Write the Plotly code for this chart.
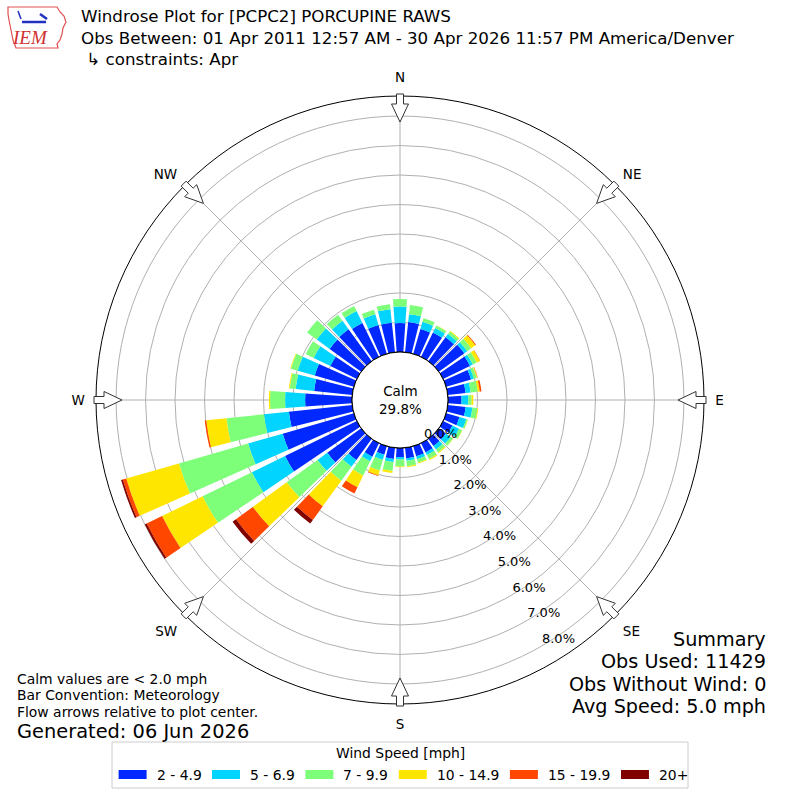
import math
import plotly.graph_objects as go

# wind direction bins (degrees, meteorological) and speed classes
directions = list(range(0, 360, 10))
speed_bins = ["2 - 4.9", "5 - 6.9", "7 - 9.9", "10 - 14.9", "15 - 19.9", "20+"]
bin_colors = ["#0028ff", "#00d4ff", "#7dff7a", "#ffe600", "#ff4700", "#800000"]

# percent of observations, one list per speed class (36 directions each)
pct_2_5 = [0.98, 1.03, 0.88, 0.92, 1.00, 1.07, 1.01, 0.88, 0.61, 0.46, 0.61, 0.47,
           0.35, 0.30, 0.30, 0.35, 0.36, 0.36, 0.31, 0.38, 0.30, 0.51, 0.89, 1.42,
           2.71, 2.51, 2.16, 1.59, 1.30, 1.38, 1.00, 1.32, 1.34, 1.28, 1.02, 1.01]
pct_5_7 = [0.56, 0.27, 0.25, 0.17, 0.14, 0.12, 0.11, 0.10, 0.17, 0.23, 0.23, 0.24,
           0.25, 0.20, 0.15, 0.10, 0.10, 0.08, 0.08, 0.11, 0.18, 0.17, 0.28, 0.41,
           1.25, 1.22, 0.85, 0.68, 0.63, 0.60, 0.63, 0.54, 0.35, 0.45, 0.38, 0.46]
pct_7_10 = [0.26, 0.31, 0.13, 0.09, 0.10, 0.17, 0.15, 0.10, 0.24, 0.11, 0.17, 0.05,
            0.12, 0.10, 0.12, 0.15, 0.12, 0.19, 0.24, 0.30, 0.38, 0.54, 0.59, 1.29,
            1.86, 2.44, 1.28, 0.51, 0.20, 0.24, 0.30, 0.41, 0.26, 0.19, 0.16, 0.17]
pct_10_15 = [0.00, 0.00, 0.00, 0.01, 0.03, 0.17, 0.12, 0.03, 0.07, 0.06, 0.03, 0.01,
             0.01, 0.01, 0.03, 0.04, 0.03, 0.03, 0.02, 0.07, 0.17, 0.44, 1.07, 1.42,
             1.53, 1.86, 0.69, 0.04, 0.03, 0.02, 0.00, 0.00, 0.00, 0.00, 0.00, 0.00]
pct_15_20 = [0.00, 0.00, 0.00, 0.00, 0.00, 0.03, 0.01, 0.01, 0.06, 0.00, 0.00, 0.00,
             0.00, 0.00, 0.00, 0.00, 0.00, 0.00, 0.00, 0.00, 0.02, 0.24, 0.57, 0.71,
             0.58, 0.12, 0.05, 0.00, 0.00, 0.00, 0.00, 0.00, 0.00, 0.00, 0.00, 0.00]
pct_20_up = [0.00, 0.00, 0.00, 0.00, 0.00, 0.00, 0.00, 0.00, 0.00, 0.00, 0.00, 0.00,
             0.00, 0.00, 0.00, 0.00, 0.00, 0.00, 0.00, 0.00, 0.00, 0.00, 0.15, 0.14,
             0.07, 0.06, 0.00, 0.00, 0.00, 0.00, 0.00, 0.00, 0.00, 0.00, 0.00, 0.00]
bin_values = [pct_2_5, pct_5_7, pct_7_10, pct_10_15, pct_15_20, pct_20_up]

radial_ticks = [0, 1, 2, 3, 4, 5, 6, 7, 8]
compass_angles = [0, 45, 90, 135, 180, 225, 270, 315]
compass_labels = ["N", "NE", "E", "SE", "S", "SW", "W", "NW"]
calm_pct = 29.8

title_lines = [
    "Windrose Plot for [PCPC2] PORCUPINE RAWS",
    "Obs Between: 01 Apr 2011 12:57 AM - 30 Apr 2026 11:57 PM America/Denver",
    " \u21b3 constraints: Apr",
]
notes = ["Calm values are < 2.0 mph", "Bar Convention: Meteorology",
         "Flow arrows relative to plot center."]
generated = "Generated: 06 Jun 2026"
summary = ["Summary", "Obs Used: 11429", "Obs Without Wind: 0", "Avg Speed: 5.0 mph"]

W = H = 800
CX, CY, R = 400, 400, 304
RMAX = 8.68
FONT = "DejaVu Sans"


def px(x):
    return x / W


def py(y):
    return 1 - y / H


fig = go.Figure()

for name, color, vals in zip(speed_bins, bin_colors, bin_values):
    fig.add_trace(go.Barpolar(
        r=vals, theta=directions, width=8, name=name,
        marker=dict(color=color, line=dict(width=0)),
    ))

# calm circle outline
fig.add_trace(go.Scatterpolar(
    r=[0] * 181, theta=list(range(0, 362, 2)), mode="lines",
    line=dict(color="black", width=1), hoverinfo="skip",
))

# radial labels along the 150 degree line
fig.add_trace(go.Scatterpolar(
    r=radial_ticks, theta=[150] * len(radial_ticks), mode="text",
    text=[f"{v:.1f}%" for v in radial_ticks], textposition="top right",
    textfont=dict(family=FONT, size=13, color="black"), cliponaxis=False,
    hoverinfo="skip",
))

shapes = []
# flow arrows on the outer ring
for b in compass_angles:
    rad = math.radians(b)
    ox, oy = math.sin(rad), -math.cos(rad)
    qx, qy = math.cos(rad), math.sin(rad)
    pts = [(306, 3.5), (296, 3.5), (296, 8.5), (278, 0), (296, -8.5), (296, -3.5), (306, -3.5)]
    coords = []
    for r, w in pts:
        x = CX + r * ox + w * qx
        y = CY + r * oy + w * qy
        coords.append(f"{px(x):.5f},{py(y):.5f}")
    shapes.append(dict(type="path", xref="paper", yref="paper",
                       path="M" + " L".join(coords) + " Z",
                       fillcolor="white", line=dict(color="#333333", width=1)))

# rough IEM logo
iowa = [(8, 7), (57, 7), (60, 12), (64, 16), (66, 22), (63, 28), (62, 34), (60, 40),
        (57, 44), (58, 48), (16, 48), (13, 40), (11, 30), (9, 20), (8, 14)]
shapes.append(dict(type="path", xref="paper", yref="paper",
                   path="M" + " L".join(f"{px(x):.5f},{py(y):.5f}" for x, y in iowa) + " Z",
                   line=dict(color="#e05050", width=1.2)))
shapes.append(dict(type="line", xref="paper", yref="paper", x0=px(22), y0=py(22),
                   x1=px(46), y1=py(22), line=dict(color="#2030c0", width=2.5)))
shapes.append(dict(type="line", xref="paper", yref="paper", x0=px(40), y0=py(14),
                   x1=px(47), y1=py(19), line=dict(color="#2030c0", width=2.5)))
shapes.append(dict(type="line", xref="paper", yref="paper", x0=px(18), y0=py(11),
                   x1=px(21), y1=py(19), line=dict(color="#2030c0", width=1.5)))

annotations = []
annotations.append(dict(x=px(30), y=py(38), xref="paper", yref="paper", text="<i>IEM</i>",
                        showarrow=False, xanchor="center", yanchor="middle",
                        font=dict(family="Liberation Serif", size=19, color="#d03030")))

annotations.append(dict(x=px(80), y=py(38), xref="paper", yref="paper",
                        text="<br>".join(title_lines), align="left", borderpad=0,
                        showarrow=False, xanchor="left", yanchor="middle",
                        font=dict(family=FONT, size=16.7, color="black")))

annotations.append(dict(x=0.5, y=0.5, xref="paper", yref="paper",
                        text=f"Calm<br>{calm_pct:.1f}%", showarrow=False,
                        xanchor="center", yanchor="middle",
                        font=dict(family=FONT, size=13.5, color="black")))

for i, line in enumerate(notes):
    annotations.append(dict(x=px(16), y=py(678.5 + 16.5 * i), xref="paper", yref="paper",
                            text=line, showarrow=False, xanchor="left", yanchor="middle",
                            borderpad=0, font=dict(family=FONT, size=13.9, color="black")))
annotations.append(dict(x=px(16), y=py(731.5), xref="paper", yref="paper", text=generated,
                        showarrow=False, xanchor="left", yanchor="middle", borderpad=0,
                        font=dict(family=FONT, size=19.4, color="black")))

for i, line in enumerate(summary):
    annotations.append(dict(x=px(767), y=py(639.5 + 22.3 * i), xref="paper", yref="paper",
                            text=line, showarrow=False, xanchor="right", yanchor="middle",
                            borderpad=0, font=dict(family=FONT, size=19.2, color="black")))

# legend box built by hand
LEG_FS = 13.9
shapes.append(dict(type="rect", xref="paper", yref="paper", x0=px(112), x1=px(688),
                   y0=py(788), y1=py(742), fillcolor="white",
                   line=dict(color="#cccccc", width=1)))
annotations.append(dict(x=0.5, y=py(753), xref="paper", yref="paper", text="Wind Speed [mph]",
                        showarrow=False, xanchor="center", yanchor="middle",
                        font=dict(family=FONT, size=LEG_FS, color="black")))

char_em = {" ": 0.318, "-": 0.361, ".": 0.318, "+": 0.838}


def text_w(s):
    return sum(char_em.get(ch, 0.636) * LEG_FS for ch in s)


lx = 118.6
for name, color in zip(speed_bins, bin_colors):
    shapes.append(dict(type="rect", xref="paper", yref="paper", x0=px(lx), x1=px(lx + 28),
                       y0=py(779), y1=py(770), fillcolor=color, line=dict(width=0)))
    annotations.append(dict(x=px(lx + 36), y=py(774.5), xref="paper", yref="paper", text=name,
                            showarrow=False, xanchor="left", yanchor="middle",
                            font=dict(family=FONT, size=LEG_FS, color="black")))
    lx += 36 + text_w(name) + 12.6

fig.update_layout(
    width=W, height=H,
    margin=dict(l=0, r=0, t=0, b=0),
    paper_bgcolor="white",
    showlegend=False,
    font=dict(family=FONT, color="black"),
    polar=dict(
        domain=dict(x=[px(CX - R), px(CX + R)], y=[py(CY + R), py(CY - R)]),
        bgcolor="white",
        hole=48 / R,
        barmode="stack",
        radialaxis=dict(range=[0, RMAX], tickvals=radial_ticks[1:], showticklabels=False,
                        ticks="", showline=False, gridcolor="#b0b0b0", gridwidth=0.8),
        angularaxis=dict(rotation=90, direction="clockwise", tickmode="array",
                         tickvals=compass_angles, ticktext=compass_labels,
                         ticks="outside", ticklen=8, tickcolor="rgba(0,0,0,0)",
                         tickfont=dict(family=FONT, size=13.5, color="black"),
                         showline=True, linecolor="black", linewidth=1,
                         gridcolor="#b0b0b0", gridwidth=0.8),
    ),
    shapes=shapes,
    annotations=annotations,
)

fig.write_html("out.html", config={"displayModeBar": False},
               post_script="document.body.style.margin='0px';")
